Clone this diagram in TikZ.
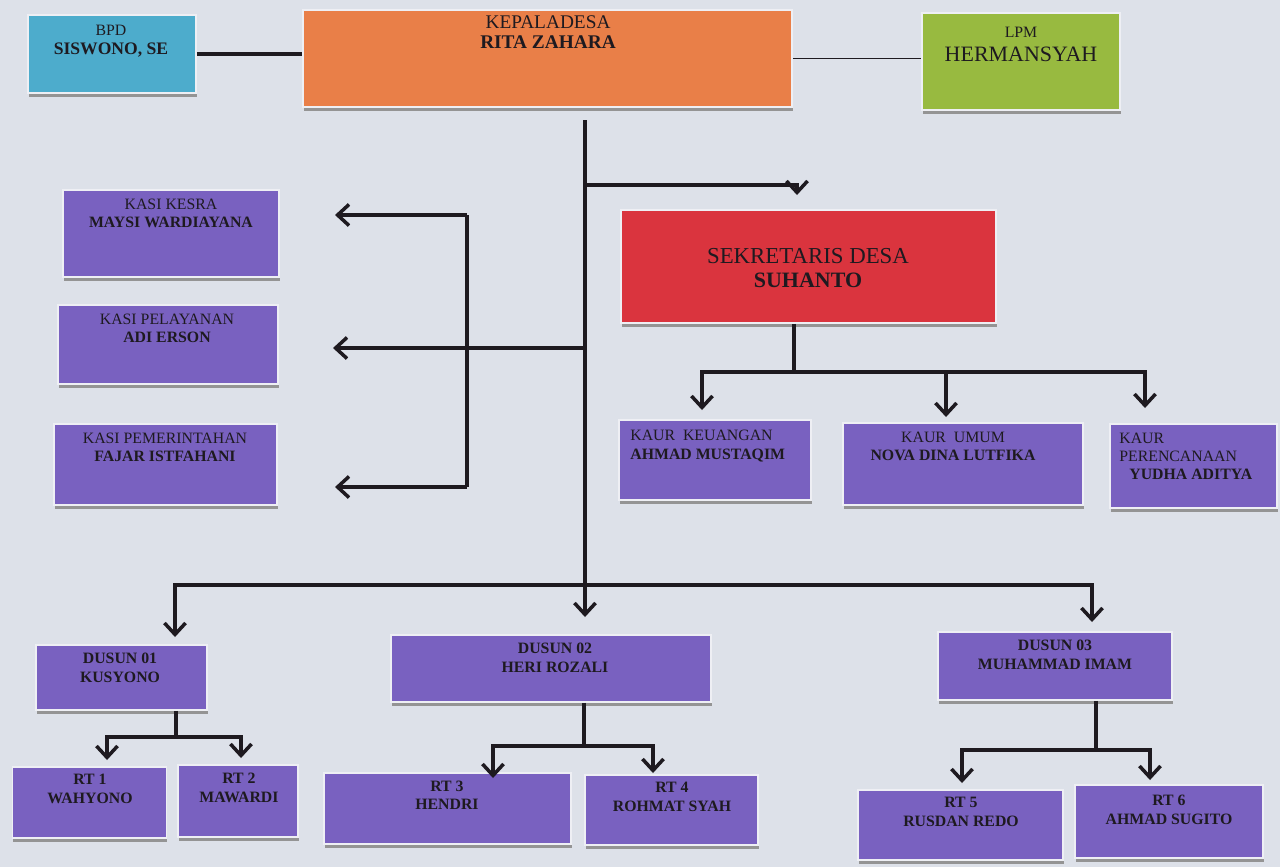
\documentclass[tikz,border=0pt]{standalone}
\usepackage{fontspec}
\setmainfont{Liberation Serif}
\usetikzlibrary{arrows.meta, shadows, positioning}
\definecolor{bgpaper}{RGB}{221,225,233}
\definecolor{boxedge}{RGB}{238,239,244}
\definecolor{bpdblue}{RGB}{77,172,204}
\definecolor{kadesorange}{RGB}{233,127,72}
\definecolor{lpmgreen}{RGB}{152,186,64}
\definecolor{sekred}{RGB}{218,52,62}
\definecolor{staffpurple}{RGB}{121,97,192}
\definecolor{inkdark}{RGB}{30,26,32}
\tikzstyle{orgbox} = [rectangle, draw=boxedge, line width=1pt, inner sep=0pt,
drop shadow={shadow xshift=0.5pt, shadow yshift=-2.5pt, fill=black!42, opacity=1}]
\tikzstyle{purplebox} = [orgbox, fill=staffpurple]
\tikzstyle{boxtext} = [align=center, inner sep=0pt, text=inkdark]
\tikzstyle{stafftext} = [boxtext, font=\fontsize{9}{10.3}\selectfont]
\tikzstyle{rttext} = [boxtext, font=\fontsize{9}{10.5}\selectfont\bfseries]
\tikzstyle{orgline} = [draw=inkdark, line width=2pt]
\tikzstyle{orgarrow} = [orgline, -{Straight Barb[length=6.5pt,width=12pt]}]

\begin{document}
\begin{tikzpicture}[x=0.02cm, y=-0.02cm]
	\useasboundingbox (0,0) rectangle (1280,867);
	\fill[bgpaper] (0,0) rectangle (1280,867);

	% top row
	\node (bpd) [orgbox, fill=bpdblue, minimum width=3.36cm, minimum height=1.56cm] at (112,54) {};
	\node (bpd-t) [boxtext, font=\fontsize{10}{10.5}\selectfont] at (111,41) {{\fontsize{9}{10.5}\selectfont BPD}\\\textbf{SISWONO, SE}};
	\node (kades) [orgbox, fill=kadesorange, minimum width=9.78cm, minimum height=1.94cm] at (547.5,58.5) {};
	\node (kades-t) [boxtext, font=\fontsize{11}{11}\selectfont] at (548,32) {KEPALADESA\\\textbf{RITA ZAHARA}};
	\node (lpm) [orgbox, fill=lpmgreen, minimum width=3.96cm, minimum height=1.94cm] at (1021,61.5) {};
	\node (lpm-t) [boxtext, font=\fontsize{12.5}{13.7}\selectfont] at (1021,44) {{\fontsize{9}{13.7}\selectfont LPM}\\HERMANSYAH};

	% sekretaris and kaur
	\node (sekdes) [orgbox, fill=sekred, minimum width=7.5cm, minimum height=2.26cm] at (808.5,266.5) {};
	\node (sekdes-t) [boxtext, font=\fontsize{13}{13.7}\selectfont] at (808,268) {SEKRETARIS DESA\\{\fontsize{12.5}{13.7}\selectfont\bfseries SUHANTO}};
	\node (keuangan) [purplebox, minimum width=3.84cm, minimum height=1.6cm] at (715,460) {};
	\node (keuangan-t) [stafftext, align=left, anchor=west] at (630,446) {KAUR \ KEUANGAN\\\textbf{AHMAD MUSTAQIM}};
	\node (umum) [purplebox, minimum width=4.8cm, minimum height=1.64cm] at (963,464) {};
	\node (umum-t) [stafftext] at (953,446) {KAUR \ UMUM\\\textbf{NOVA DINA LUTFIKA}};
	\node (perencanaan) [purplebox, minimum width=3.34cm, minimum height=1.68cm] at (1193.5,466) {};
	\node (perencanaan-t) [stafftext, align=left, anchor=west] at (1119,456) {KAUR\\PERENCANAAN\\\hspace{0.2cm}\textbf{YUDHA ADITYA}};

	% kasi
	\node (kesra) [purplebox, minimum width=4.32cm, minimum height=1.74cm] at (171,233.5) {};
	\node (kesra-t) [stafftext] at (171,213) {KASI KESRA\\\textbf{MAYSI WARDIAYANA}};
	\node (pelayanan) [purplebox, minimum width=4.4cm, minimum height=1.58cm] at (168,344.5) {};
	\node (pelayanan-t) [stafftext] at (167,328) {KASI PELAYANAN\\\textbf{ADI ERSON}};
	\node (pemerintahan) [purplebox, minimum width=4.46cm, minimum height=1.62cm] at (165.5,464.5) {};
	\node (pemerintahan-t) [stafftext] at (165,447) {KASI PEMERINTAHAN\\\textbf{FAJAR ISTFAHANI}};

	% dusun
	\node (dusun1) [purplebox, minimum width=3.42cm, minimum height=1.3cm] at (121.5,677.5) {};
	\node (dusun1-t) [rttext] at (120,668) {DUSUN 01\\KUSYONO};
	\node (dusun2) [purplebox, minimum width=6.4cm, minimum height=1.34cm] at (551,668.5) {};
	\node (dusun2-t) [rttext] at (555,658) {DUSUN 02\\HERI ROZALI};
	\node (dusun3) [purplebox, minimum width=4.68cm, minimum height=1.36cm] at (1055,666) {};
	\node (dusun3-t) [rttext] at (1055,655) {DUSUN 03\\MUHAMMAD IMAM};

	% rt
	\node (rt1) [purplebox, minimum width=3.08cm, minimum height=1.42cm] at (89.5,802.5) {};
	\node (rt1-t) [rttext] at (90,789) {RT 1\\WAHYONO};
	\node (rt2) [purplebox, minimum width=2.4cm, minimum height=1.44cm] at (238,801) {};
	\node (rt2-t) [rttext] at (239,788) {RT 2\\MAWARDI};
	\node (rt3) [purplebox, minimum width=4.94cm, minimum height=1.42cm] at (447.5,808.5) {};
	\node (rt3-t) [rttext] at (447,795) {RT 3\\HENDRI};
	\node (rt4) [purplebox, minimum width=3.46cm, minimum height=1.4cm] at (671.5,810) {};
	\node (rt4-t) [rttext] at (672,797) {RT 4\\ROHMAT SYAH};
	\node (rt5) [purplebox, minimum width=4.1cm, minimum height=1.4cm] at (960.5,825) {};
	\node (rt5-t) [rttext] at (961,812) {RT 5\\RUSDAN REDO};
	\node (rt6) [purplebox, minimum width=3.76cm, minimum height=1.46cm] at (1169,821.5) {};
	\node (rt6-t) [rttext] at (1169,810) {RT 6\\AHMAD SUGITO};

	% branch points and arrow ends
	\coordinate (k0) at (585,120);
	\coordinate (k1) at (585,185);
	\coordinate (k2) at (585,348);
	\coordinate (k3) at (585,585);
	\coordinate (sekin) at (797,195);
	\coordinate (b0) at (467,215);
	\coordinate (b1) at (467,487);
	\coordinate (kesin) at (335,215);
	\coordinate (pelin) at (333,348);
	\coordinate (pemin) at (335,487);
	\coordinate (s1) at (794,372);
	\coordinate (keuin) at (702,410);
	\coordinate (umin) at (946,417);
	\coordinate (perin) at (1145,408);
	\coordinate (d1in) at (175,637);
	\coordinate (d2in) at (585,617);
	\coordinate (d3in) at (1092,622);
	\coordinate (u1) at (176,737);
	\coordinate (rt1in) at (107,760);
	\coordinate (rt2in) at (241,758);
	\coordinate (u2) at (584,746);
	\coordinate (rt3in) at (493,778);
	\coordinate (rt4in) at (653,773);
	\coordinate (u3) at (1096,750);
	\coordinate (rt5in) at (962,783);
	\coordinate (rt6in) at (1150,780);

	% connectors
	\draw [orgline, line width=2.4pt] (bpd.east) -- (bpd.east -| kades.west);
	\draw [orgline, line width=0.8pt] (kades.east) -- (kades.east -| lpm.west);
	\draw [orgline] (k0) -- (k3);
	\draw [orgarrow] (k1) -| (sekin);
	\draw [orgline] (b0) -- (b1);
	\draw [orgarrow] (b0) -- (kesin);
	\draw [orgarrow] (k2) -- (pelin);
	\draw [orgarrow] (b1) -- (pemin);
	\draw [orgline] (sekdes.south -| s1) -- (s1);
	\draw [orgarrow] (s1) -| (keuin);
	\draw [orgarrow] (s1) -| (umin);
	\draw [orgarrow] (s1) -| (perin);
	\draw [orgarrow] (k3) -| (d1in);
	\draw [orgarrow] (k3) -- (d2in);
	\draw [orgarrow] (k3) -| (d3in);
	\draw [orgline] (dusun1.south -| u1) -- (u1);
	\draw [orgarrow] (u1) -| (rt1in);
	\draw [orgarrow] (u1) -| (rt2in);
	\draw [orgline] (dusun2.south -| u2) -- (u2);
	\draw [orgarrow] (u2) -| (rt3in);
	\draw [orgarrow] (u2) -| (rt4in);
	\draw [orgline] (dusun3.south -| u3) -- (u3);
	\draw [orgarrow] (u3) -| (rt5in);
	\draw [orgarrow] (u3) -| (rt6in);
\end{tikzpicture}
\end{document}
